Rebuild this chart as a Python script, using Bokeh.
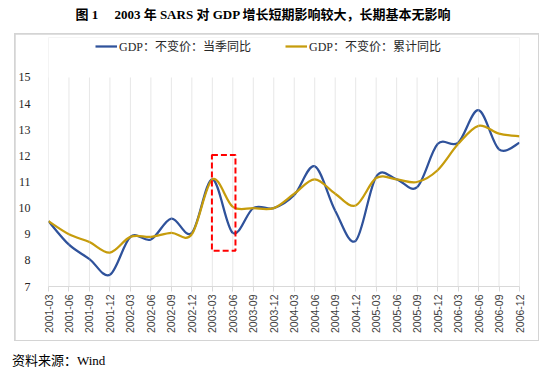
from bokeh.plotting import figure
from bokeh.models import (Range1d, FixedTicker, BoxAnnotation, Legend, LegendItem,
                          ColumnDataSource, Div)
from bokeh.layouts import column
from bokeh.embed import file_html
from bokeh.resources import INLINE
import math

quarters = ["2001-03", "2001-06", "2001-09", "2001-12",
            "2002-03", "2002-06", "2002-09", "2002-12",
            "2003-03", "2003-06", "2003-09", "2003-12",
            "2004-03", "2004-06", "2004-09", "2004-12",
            "2005-03", "2005-06", "2005-09", "2005-12",
            "2006-03", "2006-06", "2006-09", "2006-12"]
gdp_quarterly = [9.5, 8.6, 8.05, 7.45, 8.9, 8.8, 9.6, 9.05,
                 11.1, 9.05, 10.0, 10.0, 10.5, 11.6, 9.9, 8.75,
                 11.2, 11.1, 10.8, 12.45, 12.5, 13.75, 12.25, 12.5]
gdp_cumulative = [9.5, 9.0, 8.7, 8.3, 8.9, 8.9, 9.05, 9.0,
                  11.1, 10.05, 10.0, 10.0, 10.55, 11.1, 10.55, 10.1,
                  11.15, 11.1, 11.0, 11.45, 12.45, 13.15, 12.85, 12.75]
y_ticks = [7, 8, 9, 10, 11, 12, 13, 14, 15]

title_text = "图 1     2003 年 SARS 对 GDP 增长短期影响较大，长期基本无影响"
source_text = "资料来源：Wind"
label_q = "GDP：不变价：当季同比"
label_c = "GDP：不变价：累计同比"

SERIF = "'Liberation Serif', 'Times New Roman', 'Noto Sans CJK SC'"

def smooth_segments(ys):
    """Catmull-Rom style smoothing (like Excel's smoothed line) as Bezier segments."""
    n = len(ys)
    xs = list(range(n))
    d = dict(x0=[], y0=[], x1=[], y1=[], cx0=[], cy0=[], cx1=[], cy1=[])
    for i in range(n - 1):
        xp, yp = (xs[i - 1], ys[i - 1]) if i > 0 else (xs[i], ys[i])
        xn, yn = (xs[i + 2], ys[i + 2]) if i + 2 < n else (xs[i + 1], ys[i + 1])
        d["x0"].append(xs[i]); d["y0"].append(ys[i])
        d["x1"].append(xs[i + 1]); d["y1"].append(ys[i + 1])
        d["cx0"].append(xs[i] + (xs[i + 1] - xp) / 6.0)
        d["cy0"].append(ys[i] + (ys[i + 1] - yp) / 6.0)
        d["cx1"].append(xs[i + 1] - (xn - xs[i]) / 6.0)
        d["cy1"].append(ys[i + 1] - (yn - ys[i]) / 6.0)
    return ColumnDataSource(d)

title_div = Div(text=title_text, width=526, height=25, margin=(8, 0, 0, 0),
                styles={"font-family": SERIF, "font-size": "13px", "font-weight": "bold",
                        "text-align": "center", "white-space": "pre", "line-height": "14px",
                        "color": "#000000"})

# frame extends above the 15 line to hold the legend; 7..15 is the value area
p = figure(width=523, height=306, output_backend="svg", toolbar_location=None,
           x_range=Range1d(0, len(quarters) - 1), y_range=Range1d(7, 16.53),
           min_border_left=32, min_border_right=19, min_border_top=3, min_border_bottom=54,
           margin=(1, 1, 1, 1))
p.outline_line_color = None
p.background_fill_color = "white"
p.border_fill_color = "white"
p.grid.grid_line_color = None

idx = list(range(len(quarters)))
p.segment(x0=idx, y0=[min(y_ticks)] * len(idx), x1=idx, y1=[max(y_ticks)] * len(idx),
          line_color="#e7e7e7", line_width=1)

p.xaxis.ticker = FixedTicker(ticks=idx)
p.xaxis.major_label_overrides = {i: q for i, q in enumerate(quarters)}
p.xaxis.major_label_orientation = math.pi / 2
p.xaxis.axis_line_color = "#d9d9d9"
p.xaxis.major_tick_line_color = "#d9d9d9"
p.xaxis.major_tick_in = 0
p.xaxis.major_tick_out = 5
p.xaxis.minor_tick_line_color = None
p.xaxis.major_label_standoff = 3
p.xaxis.major_label_text_font = "'Liberation Sans', Arial"
p.xaxis.major_label_text_font_size = "10.5px"
p.xaxis.major_label_text_color = "#404040"

p.yaxis.ticker = FixedTicker(ticks=y_ticks)
p.yaxis.axis_line_color = None
p.yaxis.major_tick_line_color = None
p.yaxis.minor_tick_line_color = None
p.yaxis.major_label_standoff = 12
p.yaxis.major_label_text_font = SERIF
p.yaxis.major_label_text_font_size = "12px"
p.yaxis.major_label_text_color = "#262626"

r_q = p.bezier(x0="x0", y0="y0", x1="x1", y1="y1", cx0="cx0", cy0="cy0", cx1="cx1", cy1="cy1",
               source=smooth_segments(gdp_quarterly), line_color="#2f529b", line_width=2.25)
r_c = p.bezier(x0="x0", y0="y0", x1="x1", y1="y1", cx0="cx0", cy0="cy0", cx1="cx1", cy1="cy1",
               source=smooth_segments(gdp_cumulative), line_color="#c69c0c", line_width=2.25)

# red dashed highlight box around 2003 SARS quarters
p.add_layout(BoxAnnotation(left=7.98, right=9.13, bottom=8.37, top=12.03,
                           fill_alpha=0, line_alpha=1, line_color="#ff0000",
                           line_width=2, line_dash="6 3"))

legend = Legend(items=[LegendItem(label=label_q, renderers=[r_q]),
                       LegendItem(label=label_c, renderers=[r_c])],
                orientation="horizontal", location=(47, 231),
                glyph_width=22, glyph_height=12, label_height=14, label_standoff=2,
                spacing=34, padding=0, margin=0,
                border_line_alpha=0, background_fill_alpha=0,
                label_text_font=SERIF, label_text_font_size="12px", label_text_color="#262626")
p.add_layout(legend, "center")

# light grey frame around the chart: the 1px margin of the figure shows this background
chart_box = column(p, margin=(0, 0, 0, 14), spacing=0,
                   styles={"background-color": "#d4d4d4"})

source_div = Div(text=source_text, width=200, height=14, margin=(13, 0, 0, 12),
                 styles={"font-family": SERIF, "font-size": "13px", "line-height": "14px",
                         "white-space": "pre", "color": "#000000"})

layout = column(title_div, chart_box, source_div, spacing=0)

open("out.html", "w").write(file_html(layout, INLINE))
